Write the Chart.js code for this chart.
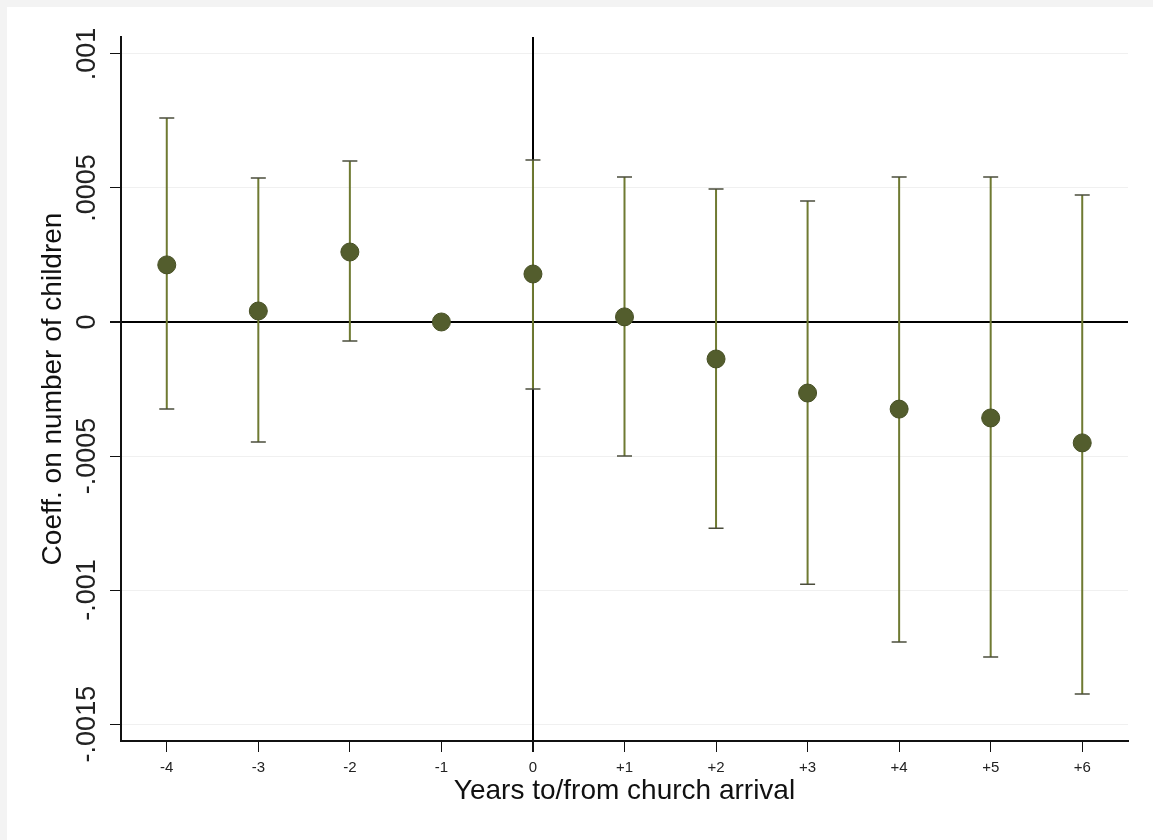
<!DOCTYPE html>
<html>
<head>
<meta charset="utf-8">
<script src="https://cdn.jsdelivr.net/npm/chart.js@4.4.1/dist/chart.umd.min.js"></script>
<style>
  html, body { margin: 0; padding: 0; background: #f3f3f3; }
  #paper { position: absolute; left: 7px; top: 7px; right: 0; bottom: 0; background: #ffffff; }
  #wrap { position: absolute; left: 0; top: 0; width: 1153px; height: 840px; }
</style>
</head>
<body>
<div id="paper"></div>
<div id="wrap"><canvas id="myChart" width="1153" height="840"></canvas></div>
<script>
// event-study estimates
const yearLabels = ['-4', '-3', '-2', '-1', '0', '+1', '+2', '+3', '+4', '+5', '+6'];
const coef    = [0.000213, 0.000041, 0.000261, 0, 0.000179, 0.000019, -0.000138, -0.000265, -0.000325, -0.000358, -0.000451];
const ciUpper = [0.000761, 0.000537, 0.000600, null, 0.000604, 0.000541, 0.000496, 0.000451, 0.000541, 0.000541, 0.000474];
const ciLower = [-0.000325, -0.000448, -0.000071, null, -0.000250, -0.000500, -0.000769, -0.000978, -0.001194, -0.001250, -0.001388];

const yTickValues = [-0.0015, -0.001, -0.0005, 0, 0.0005, 0.001];
const yTickLabels = ['-.0015', '-.001', '-.0005', '0', '.0005', '.001'];

const fontFamily = '"Liberation Sans", Arial, Helvetica, sans-serif';
const whiskerColor = '#6f7a32';
const capColor = '#4b4d3c';
const markerColor = '#535d2d';

// whiskers + caps, drawn before the markers so the dots sit on top
const errorBars = {
    id: 'errorBars',
    beforeDatasetsDraw(chart) {
        const { ctx, scales: { x, y } } = chart;
        ctx.save();
        yearLabels.forEach((lab, i) => {
            if (ciUpper[i] === null || ciLower[i] === null) return;
            const px = x.getPixelForValue(i);
            const top = y.getPixelForValue(ciUpper[i]);
            const bot = y.getPixelForValue(ciLower[i]);
            ctx.strokeStyle = whiskerColor;
            ctx.lineWidth = 2;
            ctx.beginPath();
            ctx.moveTo(px, top);
            ctx.lineTo(px, bot);
            ctx.stroke();
            ctx.strokeStyle = capColor;
            ctx.lineWidth = 1.5;
            ctx.beginPath();
            ctx.moveTo(px - 7.5, top);
            ctx.lineTo(px + 7.5, top);
            ctx.moveTo(px - 7.5, bot);
            ctx.lineTo(px + 7.5, bot);
            ctx.stroke();
        });
        ctx.restore();
    }
};

const ctx = document.getElementById('myChart').getContext('2d');
new Chart(ctx, {
    type: 'line',
    data: {
        labels: yearLabels,
        datasets: [{
            label: 'Coefficient',
            data: coef,
            showLine: false,
            pointRadius: 9,
            pointHoverRadius: 9,
            pointBackgroundColor: markerColor,
            pointBorderColor: '#464f24',
            pointBorderWidth: 1
        }]
    },
    options: {
        responsive: false,
        animation: false,
        layout: {
            padding: { left: 30, right: 25, top: 37, bottom: 28 }
        },
        plugins: {
            legend: { display: false },
            tooltip: { enabled: false }
        },
        scales: {
            x: {
                type: 'category',
                offset: true,
                border: { display: true, color: '#111', width: 2 },
                grid: {
                    offset: false,
                    drawOnChartArea: true,
                    tickLength: 11,
                    tickColor: '#111',
                    color: (c) => (yearLabels[c.index] === '0' ? '#000' : 'rgba(0,0,0,0)'),
                    lineWidth: (c) => (yearLabels[c.index] === '0' ? 2 : 1)
                },
                ticks: {
                    autoSkip: false,
                    maxRotation: 0,
                    padding: 7,
                    color: '#222',
                    font: { family: fontFamily, size: 15 }
                },
                title: {
                    display: true,
                    text: 'Years to/from church arrival',
                    color: '#111',
                    font: { family: fontFamily, size: 28 },
                    padding: { top: 0, bottom: 4 }
                },
                afterFit: (scale) => { scale.height = 71; }
            },
            y: {
                min: -0.001563,
                max: 0.001063,
                border: { display: true, color: '#111', width: 2 },
                grid: {
                    tickLength: 11,
                    tickColor: '#111',
                    color: (c) => (c.tick && c.tick.value === 0 ? '#000' : 'rgba(0,0,0,0.06)'),
                    lineWidth: (c) => (c.tick && c.tick.value === 0 ? 2 : 1)
                },
                afterBuildTicks: (scale) => {
                    scale.ticks = yTickValues.map(v => ({ value: v }));
                },
                ticks: {
                    minRotation: 90,
                    maxRotation: 90,
                    crossAlign: 'center',
                    padding: -16,
                    color: '#222',
                    font: { family: fontFamily, size: 27 },
                    callback: (value) => {
                        const i = yTickValues.findIndex(v => Math.abs(v - value) < 1e-9);
                        return i >= 0 ? yTickLabels[i] : '';
                    }
                },
                title: {
                    display: true,
                    text: 'Coeff. on number of children',
                    color: '#111',
                    font: { family: fontFamily, size: 28 },
                    padding: { top: 6, bottom: 0 }
                },
                afterFit: (scale) => { scale.width = 91; }
            }
        }
    },
    plugins: [errorBars]
});
</script>
</body>
</html>
